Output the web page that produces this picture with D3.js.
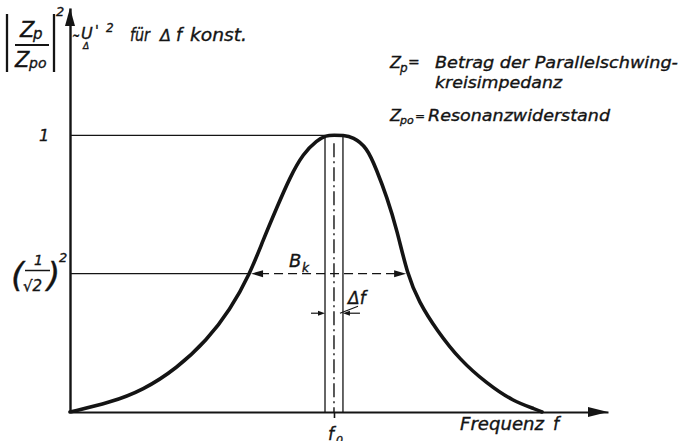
<!DOCTYPE html>
<html>
<head>
<meta charset="utf-8">
<script src="https://cdn.jsdelivr.net/npm/d3@7"></script>
<style>
  html, body { margin: 0; padding: 0; background: #ffffff; }
  svg { display: block; }
  text { font-family: "DejaVu Sans", sans-serif; font-style: italic; fill: #141414;
         stroke: #141414; stroke-width: 0.35px; }
</style>
</head>
<body>
<script>
// Resonance curve of a parallel tuned circuit: |Zp/Zpo|^2 over frequency
const freq  = [0, 1.52, 2.77, 4.05, 5.19, 6.06, 6.82, 7.31, 7.84, 8.33, 8.83, 9.36, 9.70,
               10.0, 10.34, 10.72, 11.24, 11.62, 12.00, 12.39, 12.77, 13.22, 13.89, 14.77,
               15.78, 16.79, 17.68, 17.88];
const level = [0, 0.034, 0.079, 0.158, 0.260, 0.368, 0.50, 0.620, 0.740, 0.848, 0.934, 0.982, 1.0,
               1.0, 1.0, 0.994, 0.958, 0.874, 0.778, 0.657, 0.50, 0.397, 0.296, 0.188,
               0.104, 0.038, 0.009, 0];

const f0 = 10;             // resonance frequency
const deltaF = 0.68;       // measuring window Δf
const peakLevel = 1;       // normalised maximum
const halfLevel = 0.5;     // (1/√2)^2
const bkLow = 6.82, bkHigh = 12.77;   // band edges of B_k
const fMax = 20.38, yMax = 1.46;      // axis extents

const W = 681, H = 441;
const ink = "#141414";

const svg = d3.select("body").append("svg")
  .attr("width", W).attr("height", H);

const x = d3.scaleLinear().domain([0, fMax]).range([70, 608]);
const y = d3.scaleLinear().domain([0, yMax]).range([412, 8]);

// filled arrow head; (dx, dy) is the unit direction the tip points to
function arrowHead(tx, ty, dx, dy, len, half) {
  const bx = tx - dx * len, by = ty - dy * len;
  const nx = -dy, ny = dx;
  svg.append("path")
    .attr("d", `M${tx},${ty}L${bx + nx * half},${by + ny * half}L${bx - nx * half},${by - ny * half}Z`)
    .attr("fill", ink);
}

function line(x1, y1, x2, y2, w, dash) {
  const l = svg.append("line")
    .attr("x1", x1).attr("y1", y1).attr("x2", x2).attr("y2", y2)
    .attr("stroke", ink).attr("stroke-width", w);
  if (dash) l.attr("stroke-dasharray", dash);
  return l;
}

function txt(s, tx, ty, size, len) {
  const t = svg.append("text").attr("x", tx).attr("y", ty)
    .attr("font-size", size).text(s);
  if (len) t.attr("textLength", len).attr("lengthAdjust", "spacingAndGlyphs");
  return t;
}

// axes
const xAxis = d3.axisBottom(x).tickValues([f0]).tickSize(6).tickSizeOuter(0).tickFormat("");
const gx = svg.append("g").attr("transform", `translate(0,${y(0)})`).call(xAxis);
gx.select(".domain").attr("stroke", ink).attr("stroke-width", 2.2);
gx.selectAll(".tick line").attr("stroke", ink).attr("stroke-width", 1.6);

const yAxis = d3.axisLeft(y).tickValues([]).tickSizeOuter(0);
const gy = svg.append("g").attr("transform", `translate(${x(0)},0)`).call(yAxis);
gy.select(".domain").attr("stroke", ink).attr("stroke-width", 2.4);

arrowHead(x(fMax), y(0), 1, 0, 20, 5);
arrowHead(x(0), y(yMax), 0, -1, 18, 5);

// reference levels
line(x(0), y(peakLevel), x(f0 - deltaF / 2), y(peakLevel), 1.3);
line(x(0), y(halfLevel), x(bkLow), y(halfLevel), 1.3);

// Δf window and resonance centre line
line(x(f0 - deltaF / 2), y(peakLevel), x(f0 - deltaF / 2), y(0), 1.3);
line(x(f0 + deltaF / 2), y(peakLevel), x(f0 + deltaF / 2), y(0), 1.3);
line(x(f0), y(peakLevel) + 8, x(f0), y(0), 1.4, "14,4,2,4");

// resonance curve
const curve = d3.line()
  .x((d, i) => x(freq[i]))
  .y(d => y(d))
  .curve(d3.curveBasis);
svg.append("path")
  .attr("d", curve(level))
  .attr("fill", "none")
  .attr("stroke", ink)
  .attr("stroke-width", 3.6)
  .attr("stroke-linecap", "round")
  .attr("stroke-linejoin", "round");

// bandwidth B_k
line(x(bkLow) + 10, y(halfLevel), x(bkHigh) - 10, y(halfLevel), 1.3, "9,5");
arrowHead(x(bkLow) + 1, y(halfLevel), -1, 0, 12, 3.5);
arrowHead(x(bkHigh) - 1, y(halfLevel), 1, 0, 12, 3.5);
txt("B", 289, 267, 18);
txt("k", 302, 272, 12);

// Δf dimension arrows
const dfY = y(0.357);
line(x(f0 - deltaF / 2) - 14, dfY, x(f0 - deltaF / 2) - 5, dfY, 1.2);
arrowHead(x(f0 - deltaF / 2), dfY, 1, 0, 7, 2.5);
line(x(f0 + deltaF / 2) + 17, dfY, x(f0 + deltaF / 2) + 5, dfY, 1.2);
arrowHead(x(f0 + deltaF / 2), dfY, -1, 0, 7, 2.5);
line(x(f0) + 6, dfY, 358, dfY - 7, 1.2);
txt("Δf", 348, 304, 17);

// axis captions
txt("Frequenz", 460, 430, 17, 84);
txt("f", 553, 430, 17);
txt("f", 328, 440, 17);
txt("0", 336, 444, 11);

// y value labels
txt("1", 39, y(peakLevel) + 6, 16);
txt("(", 11, 287, 34);
txt("1", 34, 265, 14);
line(25, 270.5, 50, 270.5, 1.5);
txt("√2", 23, 291, 15);
txt(")", 47, 287, 34);
txt("2", 59, 262, 13);

// quantity on the y axis
line(7, 14, 7, 72, 2.3);
line(54, 14, 54, 72, 2.3);
txt("Z", 20, 37, 21);
txt("p", 33, 39, 15);
line(15, 45, 49, 45, 1.9);
txt("Z", 15, 67, 21);
txt("po", 29, 68, 14);
txt("2", 56, 16, 13);

txt("∼", 72, 41, 17, 8);
txt("U", 81, 39, 16);
txt("'", 95, 35, 14);
txt("Δ", 83, 49, 9);
txt("2", 106, 32, 12);
txt("für", 130, 41, 17, 20);
txt("Δ", 160, 41, 16);
txt("f", 176, 41, 17);
txt("konst.", 190, 41, 17, 57);

// explanation of symbols
txt("Z", 390, 68, 16);
txt("p", 400, 72, 12);
txt("=", 408, 67, 14);
txt("Betrag der Parallelschwing-", 435, 68, 16, 243);
txt("kreisimpedanz", 435, 88, 16, 127);
txt("Z", 390, 121, 16);
txt("po", 400, 124, 11);
txt("=", 415, 120, 12);
txt("Resonanzwiderstand", 428, 121, 16, 182);
</script>
</body>
</html>
